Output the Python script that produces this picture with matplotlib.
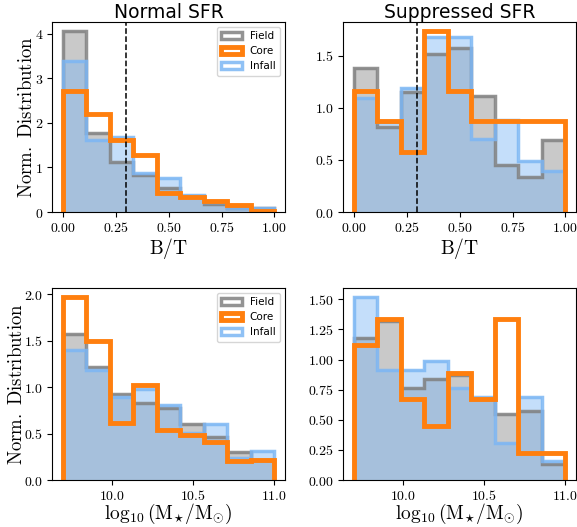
import numpy as np
import matplotlib
matplotlib.use("Agg")
import matplotlib.pyplot as plt
from matplotlib.ticker import MultipleLocator, FuncFormatter

plt.rcParams['mathtext.fontset'] = 'cm'

# bin edges
bt_edges = np.linspace(0.0, 1.0, 10)
mass_edges = np.linspace(9.7, 11.0, 10)

# B/T, normal SFR
bt_norm_field = [4.07, 1.77, 1.12, 0.82, 0.53, 0.35, 0.17, 0.10, 0.10]
bt_norm_infall = [3.38, 1.62, 1.68, 0.88, 0.77, 0.38, 0.23, 0.08, 0.08]
bt_norm_core = [2.72, 2.20, 1.62, 1.27, 0.42, 0.33, 0.25, 0.15, 0.03]

# B/T, suppressed SFR
bt_supp_field = [1.38, 0.82, 1.15, 1.52, 1.57, 1.11, 0.45, 0.335, 0.69]
bt_supp_infall = [1.09, 0.86, 1.19, 1.68, 1.68, 0.70, 0.88, 0.49, 0.39]
bt_supp_core = [1.16, 0.87, 0.58, 1.74, 1.16, 0.87, 0.87, 0.87, 0.87]

# stellar mass, normal SFR
m_norm_field = [1.57, 1.22, 0.92, 0.83, 0.77, 0.60, 0.46, 0.30, 0.22]
m_norm_infall = [1.40, 1.185, 0.89, 0.98, 0.81, 0.51, 0.605, 0.24, 0.31]
m_norm_core = [1.97, 1.50, 0.61, 1.02, 0.54, 0.48, 0.41, 0.205, 0.21]

# stellar mass, suppressed SFR
m_supp_field = [1.18, 1.32, 0.76, 0.84, 0.87, 0.67, 0.55, 0.57, 0.13]
m_supp_infall = [1.52, 0.91, 0.91, 0.99, 0.76, 0.69, 0.31, 0.686, 0.16]
m_supp_core = [1.12, 1.34, 0.67, 0.445, 0.89, 0.67, 1.34, 0.22, 0.22]

labels = ["Field", "Core", "Infall"]
titles = ["Normal SFR", "Suppressed SFR"]

FIELD_C = '#808080'
INFALL_C = '#7cb6f4'
CORE_C = '#ff7f0e'

fig = plt.figure(figsize=(5.77, 5.27), dpi=100)
W, H = 577, 527
def rect(l, t, r, b):
    return [l / W, 1 - b / H, (r - l) / W, (b - t) / H]

ax_tl = fig.add_axes(rect(52.3, 21.7, 285, 212))
ax_tr = fig.add_axes(rect(343.3, 21.7, 576, 212))
ax_bl = fig.add_axes(rect(52.3, 287.7, 285, 480))
ax_br = fig.add_axes(rect(343.3, 287.7, 576, 480))

panels = [
    (ax_tl, bt_edges, bt_norm_field, bt_norm_infall, bt_norm_core),
    (ax_tr, bt_edges, bt_supp_field, bt_supp_infall, bt_supp_core),
    (ax_bl, mass_edges, m_norm_field, m_norm_infall, m_norm_core),
    (ax_br, mass_edges, m_supp_field, m_supp_infall, m_supp_core),
]

for ax, edges, fld, inf, cor in panels:
    centers = 0.5 * (edges[:-1] + edges[1:])
    ax.hist(centers, bins=edges, weights=fld, histtype='stepfilled',
            color=FIELD_C, alpha=0.42, lw=0)
    ax.hist(centers, bins=edges, weights=fld, histtype='step',
            color=FIELD_C, alpha=0.85, lw=2.5, label=labels[0])
    ax.hist(centers, bins=edges, weights=inf, histtype='stepfilled',
            color=INFALL_C, alpha=0.45, lw=0)
    ax.hist(centers, bins=edges, weights=inf, histtype='step',
            color=INFALL_C, alpha=0.85, lw=2.5, label=labels[2])
    ax.hist(centers, bins=edges, weights=cor, histtype='step',
            color=CORE_C, lw=3.5, label=labels[1])
    ax.tick_params(labelsize=10, length=3.5, pad=3)

def fmt(d):
    return FuncFormatter(lambda v, p: r'$%.*f$' % (d, v))

for ax in (ax_tl, ax_tr):
    ax.axvline(0.3, color='black', ls='--', lw=1.1)
    ax.xaxis.set_major_locator(MultipleLocator(0.25))
    ax.xaxis.set_major_formatter(fmt(2))
    ax.set_xlabel(r'$\mathrm{B/T}$', fontsize=14, labelpad=1)
for ax in (ax_bl, ax_br):
    ax.xaxis.set_major_locator(MultipleLocator(0.5))
    ax.xaxis.set_major_formatter(fmt(1))
    ax.set_xlabel(r'$\log_{10}(\mathrm{M}_{{\star}}/\mathrm{M}_{{\odot}})$',
                  fontsize=14, labelpad=-1)

ax_tl.yaxis.set_major_locator(MultipleLocator(1))
ax_tl.yaxis.set_major_formatter(fmt(0))
ax_tr.yaxis.set_major_locator(MultipleLocator(0.5))
ax_tr.yaxis.set_major_formatter(fmt(1))
ax_bl.yaxis.set_major_locator(MultipleLocator(0.5))
ax_bl.yaxis.set_major_formatter(fmt(1))
ax_br.yaxis.set_major_locator(MultipleLocator(0.25))
ax_br.yaxis.set_major_formatter(fmt(2))

for ax in (ax_tl, ax_bl):
    ax.set_ylabel(r'$\mathrm{Norm.\ Distribution}$', fontsize=13.5, labelpad=-1)
    h, l = ax.get_legend_handles_labels()
    order = [l.index(x) for x in labels]
    ax.legend([h[i] for i in order], [l[i] for i in order], loc='upper right',
              fontsize=7.5, handlelength=2.0)

ax_tl.set_title(titles[0], fontsize=13.5, pad=3)
ax_tr.set_title(titles[1], fontsize=13.5, pad=3)

fig.savefig('out.png', dpi=100)
